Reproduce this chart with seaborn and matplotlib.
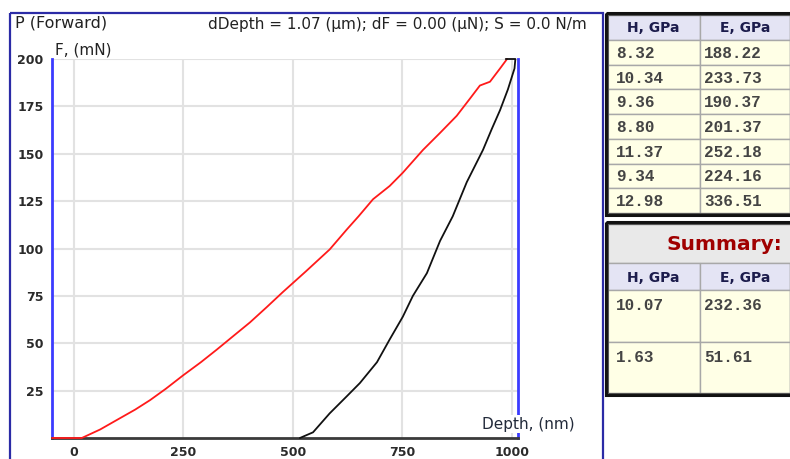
import numpy as np
import matplotlib.pyplot as plt
import matplotlib.patches as mpatches
import seaborn as sns

# loading / unloading curve (depth in nm, force in mN)
load_depth = [-50, 18, 60, 98, 140, 174, 210, 249, 290, 326, 365, 402, 440, 477,
              530, 584, 623, 650, 683, 721, 751, 797, 836, 874, 904, 927, 950, 973, 989]
load_force = [0, 0, 4.5, 9.5, 15, 20, 26, 33, 40, 46.6, 54, 61, 69, 77,
              88, 99.5, 110, 117, 126, 133, 140, 152, 161, 170, 179, 186, 188, 195, 200]

unload_depth = [986, 1008, 1006, 991, 973, 954, 934, 897, 865, 836, 806, 774,
                751, 721, 692, 653, 623, 584, 546, 516]
unload_force = [200, 200, 195, 184, 173, 163, 152, 135, 117, 104, 87, 75,
                64, 52, 40, 29, 22, 13, 3, 0]

x_ticks = [0, 250, 500, 750, 1000]
y_ticks = [25, 50, 75, 100, 125, 150, 175, 200]

table_cols = ["H, GPa", "E, GPa"]
h_values = ["8.32", "10.34", "9.36", "8.80", "11.37", "9.34", "12.98"]
e_values = ["188.22", "233.73", "190.37", "201.37", "252.18", "224.16", "336.51"]
summary_h = ["10.07", "1.63"]
summary_e = ["232.36", "51.61"]

sns.set_style("white")
plt.rcParams['font.family'] = ['DejaVu Sans']

W, H = 790, 459
fig = plt.figure(figsize=(W / 100, H / 100), dpi=100)
ax = fig.add_axes([52 / W, 1 - 438 / H, (518 - 52) / W, (438 - 59) / H])

sns.lineplot(x=load_depth, y=load_force, color="#ff1a1a", lw=1.3, sort=False,
             estimator=None, ax=ax, zorder=4, clip_on=False)
sns.lineplot(x=unload_depth, y=unload_force, color="#111111", lw=1.3, sort=False,
             estimator=None, ax=ax, zorder=4, clip_on=False)

ax.set_xlim(-50, 1014)
ax.set_ylim(0, 200)
ax.set_xticks(x_ticks)
ax.set_yticks(y_ticks)
ax.set_xlabel("")
ax.set_ylabel("")
ax.set_axisbelow(True)
ax.grid(True, color="#e2e2e2", lw=1.5)
ax.tick_params(axis="both", labelsize=9, labelcolor="#2a2a2a", color="#333333",
               length=4, width=1.5, direction="out", pad=2)
for lab in ax.get_xticklabels() + ax.get_yticklabels():
    lab.set_fontweight("bold")
ax.spines["top"].set_visible(False)
ax.spines["left"].set_color("#3b3bff")
ax.spines["left"].set_linewidth(2)
ax.spines["right"].set_color("#3b3bff")
ax.spines["right"].set_linewidth(2)
ax.spines["bottom"].set_color("#3a3a3a")
ax.spines["bottom"].set_linewidth(2)

# overlay in pixel coordinates for frame, titles and tables
ov = fig.add_axes([0, 0, 1, 1], zorder=5)
ov.set_xlim(0, W)
ov.set_ylim(H, 0)
ov.axis("off")
ov.patch.set_alpha(0)

ov.add_patch(mpatches.Rectangle((10, 13), 593, 470, fill=False, ec="#2b2ba6", lw=1.6))
ov.text(15, 23, "P (Forward)", fontsize=11.5, color="#222222", va="center", ha="left")
ov.text(587, 25, "dDepth = 1.07 (\u03bcm); dF = 0.00 (\u03bcN); S = 0.0 N/m",
        fontsize=11, color="#222222", va="center", ha="right")
ov.text(55, 50, "F, (mN)", fontsize=11, color="#222222", va="center", ha="left")
ov.text(482, 424, "Depth, (nm)", fontsize=11, color="#222a3a", va="center", ha="left",
        bbox=dict(fc="white", ec="none", pad=1))

col_x = [607, 700, 790, 880]
head_fc = "#e4e4f4"
cell_fc = "#ffffe6"
grid_c = "#a8a8a8"
mono = dict(family="Liberation Mono", fontsize=11.5, fontweight="bold", color="#444444")
head = dict(fontsize=10, fontweight="bold", color="#1c1c4c")


def cell(x0, x1, y0, y1, fc):
    ov.add_patch(mpatches.Rectangle((x0, y0), x1 - x0, y1 - y0, fc=fc, ec=grid_c, lw=1))


# table of single measurements
t_top, t_head, t_bot = 15, 40, 213
row_h = (t_bot - t_head) / len(h_values)
for i in range(3):
    cell(col_x[i], col_x[i + 1], t_top, t_head, head_fc)
for i, name in enumerate(table_cols):
    ov.text((col_x[i] + col_x[i + 1]) / 2, (t_top + t_head) / 2 + 1, name, ha="center", va="center", **head)
for r, (hv, ev) in enumerate(zip(h_values, e_values)):
    y0 = t_head + r * row_h
    for i in range(3):
        cell(col_x[i], col_x[i + 1], y0, y0 + row_h, cell_fc)
    ov.text(col_x[0] + 9, y0 + row_h / 2 + 1, hv, ha="left", va="center", **mono)
    ov.text(col_x[1] + 4, y0 + row_h / 2 + 1, ev, ha="left", va="center", **mono)
ov.add_patch(mpatches.Rectangle((606, 13), 300, 202, fill=False, ec="#111111", lw=2.2))
ov.add_patch(mpatches.Rectangle((608, 15), 300, 198, fill=False, ec="#555555", lw=0.8))

# summary table
s_top, s_title, s_head = 224, 263, 290
s_rows = [290, 342, 393]
cell(col_x[0], 900, s_top, s_title, "#e9e9e9")
ov.text(724, (s_top + s_title) / 2 + 1, "Summary:", ha="center", va="center",
        fontsize=14.5, fontweight="bold", color="#a00000")
for i in range(3):
    cell(col_x[i], col_x[i + 1], s_title, s_head, head_fc)
for i, name in enumerate(table_cols):
    ov.text((col_x[i] + col_x[i + 1]) / 2, (s_title + s_head) / 2 + 1, name, ha="center", va="center", **head)
for r, (hv, ev) in enumerate(zip(summary_h, summary_e)):
    y0, y1 = s_rows[r], s_rows[r + 1]
    for i in range(3):
        cell(col_x[i], col_x[i + 1], y0, y1, cell_fc)
    ov.text(col_x[0] + 9, y0 + 16, hv, ha="left", va="center", **mono)
    ov.text(col_x[1] + 4, y0 + 16, ev, ha="left", va="center", **mono)
ov.add_patch(mpatches.Rectangle((606, 222), 300, 173, fill=False, ec="#111111", lw=2.2))
ov.add_patch(mpatches.Rectangle((608, 224), 300, 169, fill=False, ec="#555555", lw=0.8))

fig.savefig("out.png", dpi=100)
